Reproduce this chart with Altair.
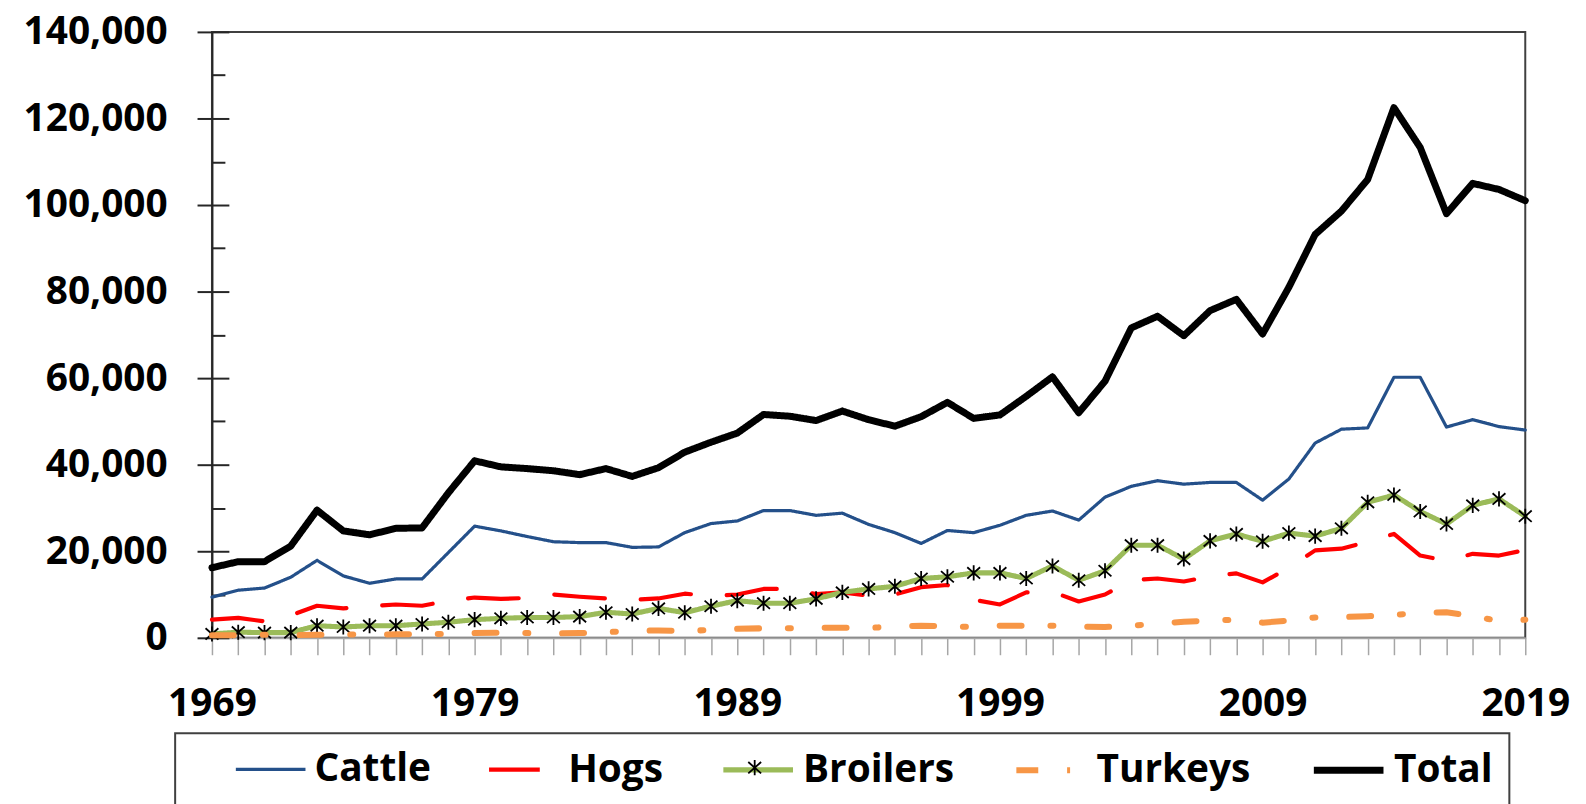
import altair as alt
import pandas as pd

YEARS = list(range(1969, 2020))

CATTLE = [9400, 11000, 11500, 14000, 17900, 14300, 12600, 13600, 13600, 19700,
          25800, 24700, 23400, 22200, 22000, 22000, 20900, 21000, 24300, 26400,
          27000, 29400, 29400, 28300, 28800, 26200, 24300, 21800, 24800, 24300,
          26000, 28300, 29300, 27200, 32500, 35000, 36300, 35500, 35900, 35900,
          31800, 36700, 45000, 48200, 48500, 60200, 60200, 48700, 50400, 48800,
          48000]

HOGS = [4200, 4600, 3800, 5200, 7400, 6800, 7300, 7700, 7400, 8600,
        9300, 9000, 9200, 10000, 9500, 9100, 8800, 9100, 10200, 9700,
        10000, 11300, 11300, 10100, 10500, 9700, 10000, 11700, 12200, 8800,
        7700, 10500, 10600, 8400, 10000, 13300, 13700, 13000, 14200, 14900,
        12800, 16200, 20200, 20600, 22200, 24000, 19000, 17800, 19400, 19000,
        20300]

BROILERS = [900, 1300, 1200, 1200, 2800, 2500, 2800, 2800, 3200, 3600,
            4200, 4500, 4700, 4700, 4900, 5900, 5500, 6800, 5800, 7300,
            8600, 8000, 8000, 9000, 10500, 11300, 11900, 13700, 14100, 15000,
            15000, 13700, 16600, 13300, 15500, 21400, 21400, 18200, 22400, 24000,
            22300, 24200, 23500, 25300, 31300, 33000, 29200, 26300, 30600, 32100,
            28100]

TURKEYS = [600, 600, 700, 600, 700, 800, 700, 800, 900, 900,
           1100, 1200, 1100, 1000, 1100, 1300, 1600, 1700, 1600, 1800,
           2100, 2200, 2200, 2300, 2300, 2300, 2600, 2800, 2700, 2500,
           2800, 2800, 2800, 2600, 2500, 2800, 3300, 3700, 4000, 4200,
           3500, 4000, 4700, 4800, 5000, 5300, 5800, 5900, 5000, 3900,
           4200]

TOTAL = [16200, 17600, 17600, 21200, 29500, 24700, 23800, 25300, 25400, 33500,
         40900, 39500, 39100, 38600, 37700, 39100, 37300, 39300, 42900, 45200,
         47300, 51600, 51200, 50200, 52400, 50400, 48900, 51100, 54400, 50700,
         51500, 55800, 60300, 52000, 59300, 71600, 74300, 69800, 75600, 78200,
         70200, 81000, 93200, 98600, 105900, 122500, 113300, 98000, 105000, 103600,
         101000]

SERIES = ["Cattle", "Hogs", "Broilers", "Turkeys", "Total"]
Y_TICKS = [0, 20000, 40000, 60000, 80000, 100000, 120000, 140000]
Y_MINOR = [10000, 30000, 50000, 70000, 90000, 110000, 130000]
X_LABEL_YEARS = [1969, 1979, 1989, 1999, 2009, 2019]

COLORS = ["#24508a", "#ff0000", "#9bbb59", "#f79646", "#000000"]
DASHES = [[1, 0], [51, 36], [1, 0], [22, 29, 3, 34], [1, 0]]
WIDTHS = [3.2, 7, 7, 5, 5.5]
ASTERISK = "M0,-1L0,1M-0.85,-0.75L0.85,0.75M-0.85,0.75L0.85,-0.75"

series_values = {"Cattle": CATTLE, "Hogs": HOGS, "Broilers": BROILERS,
                 "Turkeys": TURKEYS, "Total": TOTAL}
rows = []
for s in SERIES:
    for yr, v in zip(YEARS, series_values[s]):
        rows.append({"year": yr, "series": s, "value": v})
df = pd.DataFrame(rows)

FONT = "Open Sans"
FS = 39
W, H = 1320, 609
DARK = "#262626"
GRAY = "#a6a6a6"
NBSP = "\u00a0"
ENSP = "\u2002"

legend = alt.Legend(
    orient="none", legendX=-37, legendY=705, direction="horizontal",
    title=NBSP, titleOrient="left", titleFont=FONT, titleFontSize=FS,
    titlePadding=43,
    symbolType="M-1,0L3,0", symbolSize=1225,
    labelFont=FONT, labelFontSize=FS, labelFontWeight="bold", labelColor="black",
    labelOffset=42, columnPadding=49, padding=16, strokeColor="#404040",
    labelLimit=400,
    labelExpr=f"datum.label == 'Total' ? datum.label + '{ENSP * 2 + NBSP}' : datum.label",
)

marker_legend = alt.Legend(
    orient="none", legendX=537, legendY=731, title=None, padding=0,
    labelExpr="''", labelFontSize=2, labelOffset=0,
    symbolStrokeColor="black", symbolFillColor="transparent",
    symbolStrokeWidth=1.8, symbolSize=230,
)

x_scale = alt.Scale(domain=[1969, 2019], nice=False, zero=False)
y_scale = alt.Scale(domain=[0, 140000], nice=False)

label_test = " || ".join(f"datum.value == {y}" for y in X_LABEL_YEARS)
x_axis = alt.Axis(
    orient="bottom", values=YEARS,
    labelExpr=f"({label_test}) ? toString(datum.value) : ''",
    title=None, grid=False, tickSize=17, tickWidth=1.5, tickColor=GRAY,
    domainColor=GRAY, domainWidth=2, labelFont=FONT, labelFontSize=FS,
    labelFontWeight="bold", labelColor="black", labelPadding=30,
    labelOverlap=False, labelFlush=False,
)

y_main = alt.Axis(
    orient="left", values=Y_TICKS, labelExpr="format(datum.value, ',')",
    title=None, grid=False,
    tickSize=15, tickWidth=2, tickColor=DARK, domainColor=DARK, domainWidth=2,
    labelFont=FONT, labelFontSize=FS, labelFontWeight="bold", labelColor="black",
    labelPadding=30,
)
y_inner_major = alt.Axis(
    orient="right", offset=-W, values=Y_TICKS, labels=False, domain=False,
    title=None, grid=False, tickSize=17, tickWidth=2, tickColor=DARK,
)
y_inner_minor = alt.Axis(
    orient="right", offset=-W, values=Y_MINOR, labels=False, domain=False,
    title=None, grid=False, tickSize=13, tickWidth=2, tickColor=DARK,
)


def line_layer(name, yaxis):
    return alt.Chart(df).transform_filter(alt.datum.series == name).mark_line(
        strokeCap="round", strokeJoin="round"
    ).encode(
        x=alt.X("year:Q", scale=x_scale, axis=x_axis),
        y=alt.Y("value:Q", scale=y_scale, axis=yaxis),
        color=alt.Color("series:N", scale=alt.Scale(domain=SERIES, range=COLORS), legend=legend),
        strokeDash=alt.StrokeDash("series:N", scale=alt.Scale(domain=SERIES, range=DASHES), legend=legend),
        strokeWidth=alt.StrokeWidth("series:N", scale=alt.Scale(domain=SERIES, range=WIDTHS), legend=legend),
    )


cattle = line_layer("Cattle", y_main)
hogs = line_layer("Hogs", y_inner_major)
broilers = line_layer("Broilers", y_inner_minor)
turkeys = line_layer("Turkeys", None)
total = line_layer("Total", None)

broiler_marks = alt.Chart(df).transform_filter(
    alt.datum.series == "Broilers"
).transform_calculate(
    marker="'asterisk'"
).mark_point(
    size=230, filled=False, strokeWidth=1.8, opacity=1, color="black",
).encode(
    x=alt.X("year:Q", scale=x_scale, axis=x_axis),
    y=alt.Y("value:Q", scale=y_scale, axis=None),
    shape=alt.Shape("marker:N", scale=alt.Scale(domain=["asterisk"], range=[ASTERISK]),
                    legend=marker_legend),
)

chart = alt.layer(cattle, hogs, broilers, broiler_marks, turkeys, total).resolve_axis(
    y="independent"
).properties(
    width=W, height=H,
    autosize=alt.AutoSizeParams(type="none"),
    padding={"left": 205, "top": 22, "right": 53, "bottom": 165},
).configure_view(
    stroke="#404040", strokeWidth=2
).configure_legend(
    strokeWidth=2
)

chart.save("out.html", embed_options={"renderer": "svg", "actions": False})
